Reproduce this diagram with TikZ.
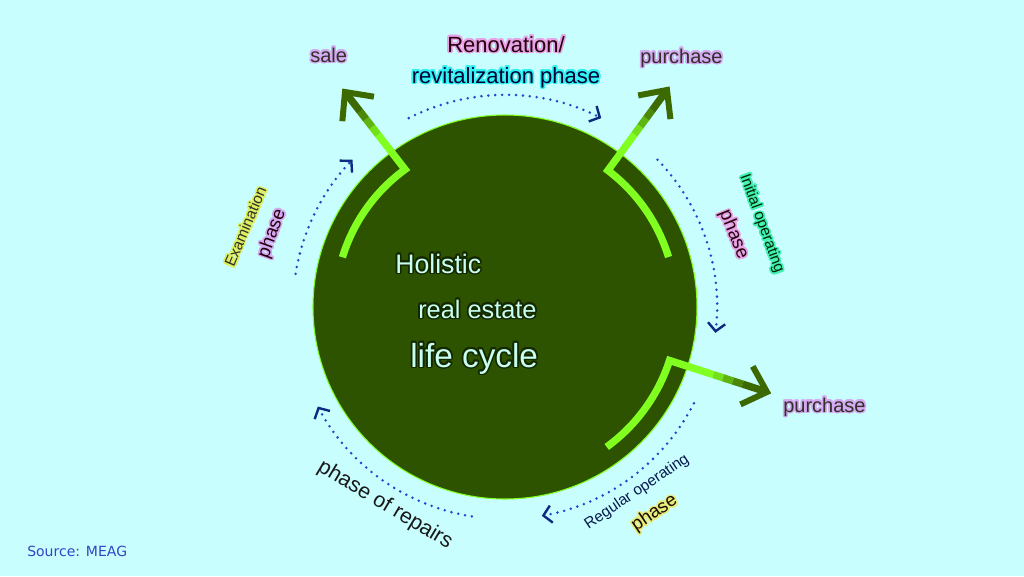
\documentclass[tikz,border=0pt]{standalone}
\usepackage{fontspec}
\setmainfont{Liberation Sans}
\newfontfamily\srcfont{DejaVu Sans}
\usepackage{contour}
\contourlength{1.2pt}
\usepackage{tikz}
\usetikzlibrary{arrows.meta, calc}
\definecolor{bgcyan}{HTML}{C9FEFF}
\definecolor{discgreen}{HTML}{2E5300}
\definecolor{leaf}{HTML}{80FF20}
\definecolor{stem}{HTML}{3D6A00}
\definecolor{dotblue}{HTML}{1C48CC}
\definecolor{navy}{HTML}{0C2A80}
\definecolor{srcblue}{HTML}{3344C4}
\definecolor{glowlav}{HTML}{D4AAF2}
\definecolor{glowpink}{HTML}{E8A2E6}
\definecolor{glowcyan}{HTML}{30F2F2}
\definecolor{glowmint}{HTML}{40F0B4}
\definecolor{glowyel}{HTML}{E8EC7C}
\definecolor{glowlime}{HTML}{DCF060}
\definecolor{centrecyan}{HTML}{C8FFF0}
\definecolor{centreedge}{HTML}{142800}
\tikzset{every picture/.style={x=0.75pt,y=0.75pt,every node/.style={inner sep=0pt}}}
\tikzset{
  disc/.style={circle,fill=discgreen,draw=leaf,line width=0.8pt,minimum size=288pt},
  cyc/.style={dotblue,line width=2.1pt,line cap=round,dash pattern=on 0pt off 5.2pt,
    -{Straight Barb[length=6pt,width=13pt,line width=1.8pt,color=navy]}},
  big/.style={font=\fontsize{15}{18}\selectfont},
  small/.style={font=\fontsize{11.5}{14}\selectfont},
  phase/.style={font=\fontsize{14}{17}\selectfont},
  centre/.style={text=centrecyan,anchor=base west}
}

\begin{document}
\begin{tikzpicture}
  \useasboundingbox (-505,-269) rectangle (519,307);
  \fill[bgcyan] (-505,-269) rectangle (519,307);

  \node[disc] (lc) at (0,0) {};

  \coordinate (tipA) at (-160,215);
  \coordinate (tipB) at (162,217);
  \coordinate (tipC) at (262,-85);

  \foreach \s/\e/\r/\t in {163/126/170/tipA, 17/53/171/tipB, -54/-18/173/tipC} {
    \coordinate (cnr) at (\e:\r);
    \draw[leaf, line width=5.5pt, miter limit=20] (\s:\r) arc[start angle=\s, end angle=\e, radius=\r] -- ($(cnr)!0.45!(\t)$);
    \foreach \a/\b/\m in {0.45/0.55/80, 0.55/0.65/50, 0.65/0.75/20, 0.75/0.97/0}
      \draw[color=leaf!\m!stem, line width=5.5pt] ($(cnr)!\a!(\t)$) -- ($(cnr)!\b!(\t)$);
    \draw[stem, line width=4.5pt, miter limit=20] ($(\t)!22pt!43:(cnr)$) -- (\t) -- ($(\t)!22pt!-43:(cnr)$);
  }

  \foreach \from/\to in {117/63, 44/-7, -27/-80, -99/-152, 171/136}
    \draw[cyc] (\from:212) arc[start angle=\from, end angle=\to, radius=212];

  \node[big, anchor=base west, text=black!85!olive] (sale) at (-195,245) {\contour{glowlav}{sale}};
  \node[big, anchor=base west, text=black!85!olive] (buyN) at (135,244) {\contour{glowlav}{purchase}};
  \node[big, anchor=base west, text=black!85!olive] (buyE) at (278,-105) {\contour{glowlav}{purchase}};
  \node[font=\fontsize{16.5}{19}\selectfont, anchor=base, text=black!80!purple] (reno) at (1,255) {\contour{glowpink}{Renovation/}};
  \node[font=\fontsize{16.5}{19}\selectfont, anchor=base, text=black!80!blue] (revit) at (1,224) {\contour{glowcyan}{revitalization phase}};

  \node[small, rotate=-70, text=black!85!green] (initop) at (256,83) {\contour{glowmint}{Initial operating}};
  \node[phase, rotate=-68, text=black!80!purple] (initph) at (228,72) {\contour{glowpink}{phase}};
  \node[small, rotate=34, text=navy!60!black] (regop) at (132,-185) {Regular operating};
  \node[phase, rotate=34, text=black!90!orange] (regph) at (150,-207) {\contour{glowyel}{phase}};
  \node[font=\fontsize{16}{19}\selectfont, rotate=-31, text=black!90] (repair) at (-120,-198) {phase of repairs};
  \node[small, rotate=67, text=black!85!olive] (exam) at (-259,80) {\contour{glowlime}{Examination}};
  \node[phase, rotate=70, text=black!80!purple] (examph) at (-232,73) {\contour{glowlav}{phase}};

  \node[centre, font=\fontsize{20}{24}\selectfont] (holi) at (-110,34) {\contour{centreedge}{Holistic}};
  \node[centre, font=\fontsize{19}{23}\selectfont] (real) at (-87,-11) {\contour{centreedge}{real estate}};
  \node[centre, font=\fontsize{25}{30}\selectfont] (life) at (-95,-60) {\contour{centreedge}{life cycle}};

  \node[anchor=base west, text=srcblue, font=\srcfont\fontsize{10.5}{13}\selectfont] (src) at (-478,-249) {Source: MEAG};
\end{tikzpicture}
\end{document}
